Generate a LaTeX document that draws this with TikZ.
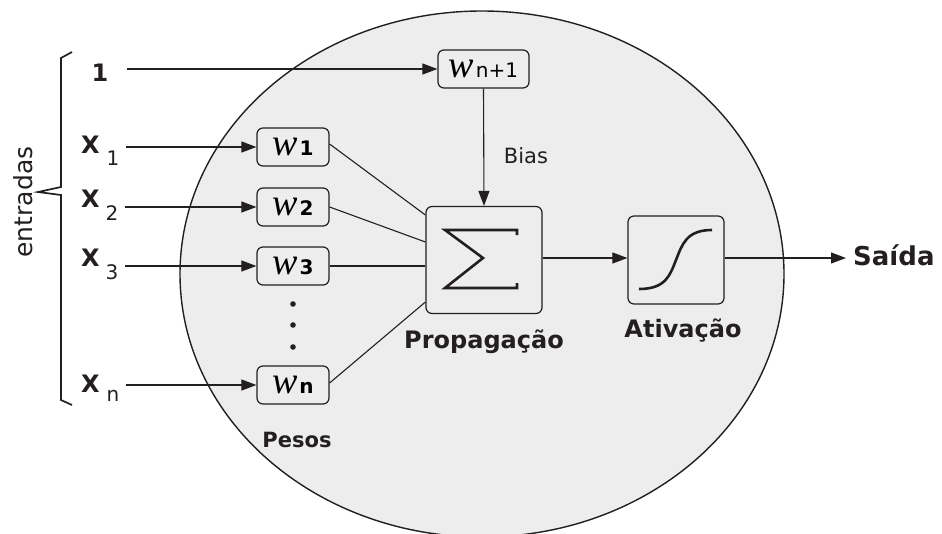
\documentclass[tikz,border=0pt]{standalone}
\usepackage{fontspec}
\setmainfont{DejaVu Sans}
\newfontfamily\wfont{Liberation Serif}
\usetikzlibrary{arrows.meta,calc}
\definecolor{ink}{HTML}{231F20}
\definecolor{cellgray}{HTML}{EDEDED}
\newcommand{\wsym}{{\wfont\itshape\fontsize{38}{38}\selectfont w}}
\newcommand{\fsz}[1]{\fontsize{#1}{#1}\selectfont}
\begin{document}
\begin{tikzpicture}[x=1pt,y=-1pt,
  box/.style={draw=ink, fill=cellgray, rounded corners=6pt, line width=1.2pt, inner sep=0pt},
  wbox/.style={box, minimum width=72pt, minimum height=38pt},
  arr/.style={-{Triangle[length=15pt,width=11pt]}, line width=1.1pt, draw=ink},
  wire/.style={line width=1.1pt, draw=ink},
  lbl/.style={text=ink, inner sep=0pt},
  inlbl/.style={lbl, anchor=base west}]
\useasboundingbox (0,0) rectangle (942,533);

% neuron body
\draw[fill=cellgray, draw=ink, line width=1.4pt] (482,274) ellipse [x radius=302, y radius=263];

% weight boxes
\node[box, minimum width=91pt, minimum height=38pt] (wb) at (483.5,69) {\wsym\,{\fsz{20}n+1}};
\node[wbox] (w1) at (293,147) {\wsym\,{\bfseries\fsz{20}1}};
\node[wbox] (w2) at (293,207) {\wsym\,{\bfseries\fsz{20}2}};
\node[wbox] (w3) at (293,266) {\wsym\,{\bfseries\fsz{20}3}};
\node[wbox] (wn) at (293,385) {\wsym\,{\bfseries\fsz{20}n}};
\foreach \yy in {304,325,347} \fill[ink] (293,\yy) circle [radius=2.8pt];

% summation and activation
\node[box, minimum width=116pt, minimum height=107pt] (sig) at (484,260) {};
\begin{scope}[shift={(sig.center)}]
  \draw[ink, line width=2.6pt, miter limit=20] (33,-25) -- (33,-30) -- (-39,-30) -- (-1,-2) -- (-39,28) -- (33,28) -- (33,23);
\end{scope}
\node[box, minimum width=96pt, minimum height=88pt] (act) at (676,260) {};
\begin{scope}[shift={(act.center)}]
  \draw[ink, line width=2.6pt] (-37,29) .. controls (-10,29) and (-6,15) .. (0,0) .. controls (6,-15) and (10,-30) .. (36,-30);
\end{scope}

% inputs
\node[lbl] (b0) at (100,73) {\bfseries\fsz{24}1};
\node[inlbl] (x1) at (81,153) {\bfseries\fsz{24}X\hspace{7pt}\raisebox{-12pt}{\mdseries\fsz{20}1}};
\node[inlbl] (x2) at (81,207) {\bfseries\fsz{24}X\hspace{6pt}\raisebox{-13pt}{\mdseries\fsz{20}2}};
\node[inlbl] (x3) at (81,266) {\bfseries\fsz{24}X\hspace{6pt}\raisebox{-13pt}{\mdseries\fsz{20}3}};
\node[inlbl] (xn) at (81,392) {\bfseries\fsz{24}X\hspace{7pt}\raisebox{-9pt}{\mdseries\fsz{20}n}};

\draw[arr] ([xshift=18pt]b0.east |- wb.west) -- (wb.west);
\draw[arr] ([xshift=6pt]x1.east |- w1.west) -- (w1.west);
\draw[arr] ([xshift=6pt]x2.east |- w2.west) -- (w2.west);
\draw[arr] ([xshift=6pt]x3.east |- w3.west) -- (w3.west);
\draw[arr] ([xshift=6pt]xn.east |- wn.west) -- (wn.west);

% weighted inputs into the sum
\draw[wire] ([yshift=3pt]w1.east) -- ([yshift=45pt]sig.west);
\draw[wire] (w2.east) -- ([yshift=18pt]sig.west);
\draw[wire] (w3.east) -- ([yshift=-6pt]sig.west);
\draw[wire] ([yshift=2pt]wn.east) -- ([yshift=-42pt]sig.west);
\draw[arr] (wb.south) -- (sig.north);
\draw[arr] ([yshift=2pt]sig.east) -- ([yshift=2pt]act.west);

% output
\node[lbl, anchor=base west] (out) at (853,265) {\bfseries\fsz{26}Saída};
\draw[arr] ([yshift=2pt]act.east) -- ([xshift=-7pt]out.west |- 0,258);

% captions
\node[lbl, anchor=base] (bias) at (526,163) {\fsz{21}Bias};
\node[lbl, anchor=base] (prop) at (484,348) {\bfseries\fsz{24}Propagação};
\node[lbl, anchor=base] (ativ) at (683,337) {\bfseries\fsz{24}Ativação};
\node[lbl, anchor=base] (pesos) at (297,447) {\bfseries\fsz{21}Pesos};

% brace over the inputs
\draw[ink, line width=1.7pt, line join=miter] (72,52) -- (61,58) -- (61,187) -- (38,192) -- (61,195) -- (61,400) -- (72,405);
\node[lbl, rotate=90] (entr) at (23,202) {\fsz{25}entradas};
\end{tikzpicture}
\end{document}
